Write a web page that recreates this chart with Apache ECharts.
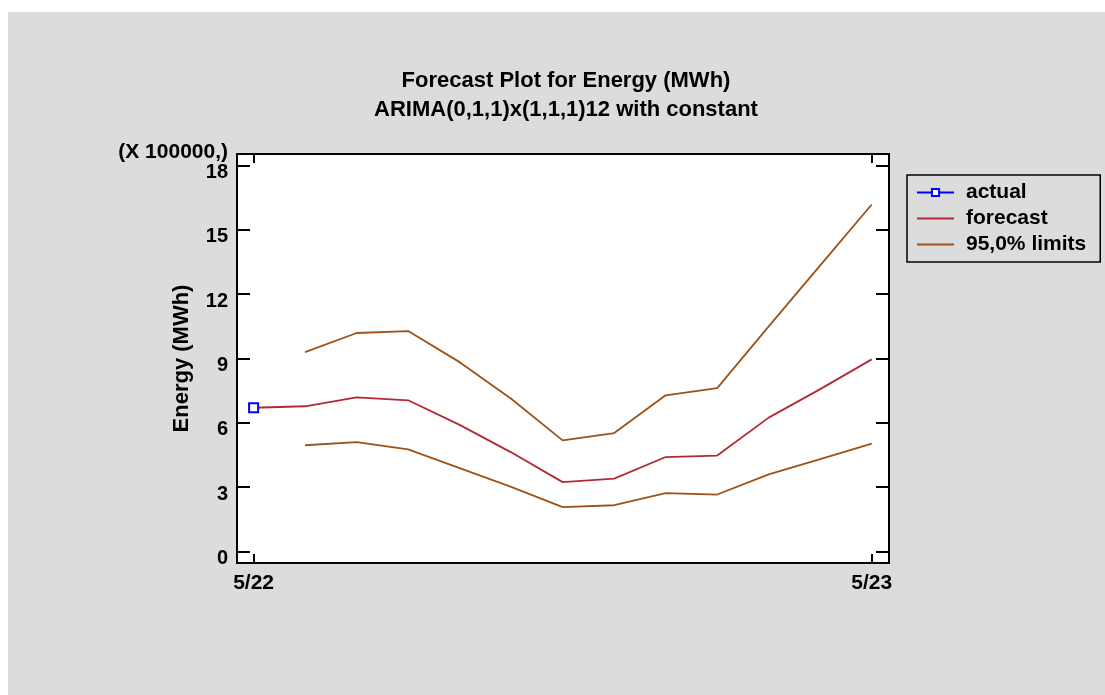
<!DOCTYPE html>
<html>
<head>
<meta charset="utf-8">
<script src="https://cdn.jsdelivr.net/npm/echarts@6/dist/echarts.min.js"></script>
<style>
  html, body { margin: 0; padding: 0; background: #ffffff; }
  #bg { position: absolute; left: 8px; top: 12px; width: 1097px; height: 683px; background: #dcdcdc; }
  #chart { position: absolute; left: 0; top: 0; width: 1105px; height: 695px; }
</style>
</head>
<body>
<div id="bg"></div>
<div id="chart"></div>
<script>
// period index (0 = 5/22 ... 12 = 5/23)
const periods = [0, 1, 2, 3, 4, 5, 6, 7, 8, 9, 10, 11, 12];
// values in units of 100000 MWh
const actualValues = [6.70, null, null, null, null, null, null, null, null, null, null, null, null];
const forecastValues = [6.70, 6.77, 7.19, 7.05, 5.90, 4.62, 3.23, 3.39, 4.40, 4.47, 6.24, 7.57, 8.96];
const upperValues = [null, 9.30, 10.19, 10.28, 8.83, 7.12, 5.18, 5.52, 7.28, 7.62, 10.50, 13.35, 16.19];
const lowerValues = [null, 4.95, 5.10, 4.76, 3.88, 3.01, 2.06, 2.15, 2.72, 2.65, 3.59, 4.30, 5.03];
const xTickValues = [0, 12];
const xTickLabels = ['5/22', '5/23'];
const yTickValues = [0, 3, 6, 9, 12, 15, 18];

const FONT = '"Liberation Sans", Arial, sans-serif';
const pair = (vals) => periods.map((p, i) => [p, vals[i]]);

const chart = echarts.init(document.getElementById('chart'), null, { renderer: 'canvas' });

const yBase = {
  type: 'value', min: -0.546, max: 18.546,
  splitLine: { show: false },
  axisLine: { show: false, onZero: false }
};
const xBase = {
  type: 'value', min: -0.322, max: 12.335,
  splitLine: { show: false },
  axisLine: { show: false, onZero: false }
};
const tickStyle = { color: '#000', width: 2 };

chart.setOption({
  backgroundColor: 'transparent',
  animation: false,
  textStyle: { fontFamily: FONT },
  grid: {
    left: 237, top: 154, right: 216, bottom: 132,
    show: true, backgroundColor: '#ffffff', borderColor: '#000000', borderWidth: 2
  },
  graphic: [
    { type: 'text', style: { text: 'Forecast Plot for Energy (MWh)', x: 566, y: 81, align: 'center', verticalAlign: 'middle', font: 'bold 22px ' + FONT, fill: '#000' } },
    { type: 'text', style: { text: 'ARIMA(0,1,1)x(1,1,1)12 with constant', x: 566, y: 110, align: 'center', verticalAlign: 'middle', font: 'bold 22px ' + FONT, fill: '#000' } },
    { type: 'text', style: { text: '(X 100000,)', x: 228, y: 152, align: 'right', verticalAlign: 'middle', font: 'bold 21px ' + FONT, fill: '#000' } }
  ],
  legend: {
    orient: 'vertical', left: 907, top: 175,
    padding: [7, 14, 7, 9],
    itemWidth: 37, itemHeight: 9, itemGap: 5,
    borderColor: '#000', borderWidth: 1.5, backgroundColor: 'transparent',
    textStyle: { fontSize: 21, fontWeight: 'bold', color: '#000', lineHeight: 20, padding: [0, 0, 0, 7], fontFamily: FONT },
    data: [
      { name: 'actual' },
      { name: 'forecast', itemStyle: { opacity: 0 } },
      { name: '95,0% limits', itemStyle: { opacity: 0 } }
    ]
  },
  xAxis: [
    Object.assign({}, xBase, {
      position: 'bottom',
      axisTick: { show: true, inside: true, length: 9, customValues: xTickValues, lineStyle: tickStyle },
      axisLabel: {
        show: true, margin: 10, customValues: xTickValues,
        formatter: (v) => xTickLabels[xTickValues.indexOf(Math.round(v))] || '',
        fontSize: 21, fontWeight: 'bold', color: '#000', fontFamily: FONT
      }
    }),
    Object.assign({}, xBase, {
      position: 'top',
      axisTick: { show: true, inside: true, length: 9, customValues: xTickValues, lineStyle: tickStyle },
      axisLabel: { show: false }
    })
  ],
  yAxis: [
    Object.assign({}, yBase, {
      position: 'left',
      name: 'Energy (MWh)', nameLocation: 'middle', nameGap: 44,
      nameTextStyle: { fontSize: 22, fontWeight: 'bold', color: '#000', fontFamily: FONT },
      axisTick: { show: true, inside: true, length: 13, customValues: yTickValues, lineStyle: tickStyle },
      axisLabel: {
        show: true, margin: 9, customValues: yTickValues,
        fontSize: 20, fontWeight: 'bold', color: '#000', fontFamily: FONT,
        verticalAlign: 'top', lineHeight: 14
      }
    }),
    Object.assign({}, yBase, {
      position: 'right',
      axisTick: { show: true, inside: true, length: 13, customValues: yTickValues, lineStyle: tickStyle },
      axisLabel: { show: false }
    })
  ],
  series: [
    {
      name: 'actual', type: 'line', data: pair(actualValues),
      symbol: 'emptyRect', symbolSize: 9, showSymbol: true,
      itemStyle: { color: '#0000ff', borderColor: '#0000ff', borderWidth: 2 },
      lineStyle: { color: '#0000ff', width: 1.5 }, z: 5
    },
    {
      name: 'forecast', type: 'line', data: pair(forecastValues),
      symbol: 'none', lineStyle: { color: '#b22a36', width: 1.8 },
      itemStyle: { color: '#b22a36' }
    },
    {
      name: '95,0% limits', type: 'line', data: pair(upperValues),
      symbol: 'none', lineStyle: { color: '#9c5218', width: 1.8 },
      itemStyle: { color: '#9c5218' }
    },
    {
      name: '95,0% limits', type: 'line', data: pair(lowerValues),
      symbol: 'none', lineStyle: { color: '#9c5218', width: 1.8 },
      itemStyle: { color: '#9c5218' }
    }
  ]
});
</script>
</body>
</html>
